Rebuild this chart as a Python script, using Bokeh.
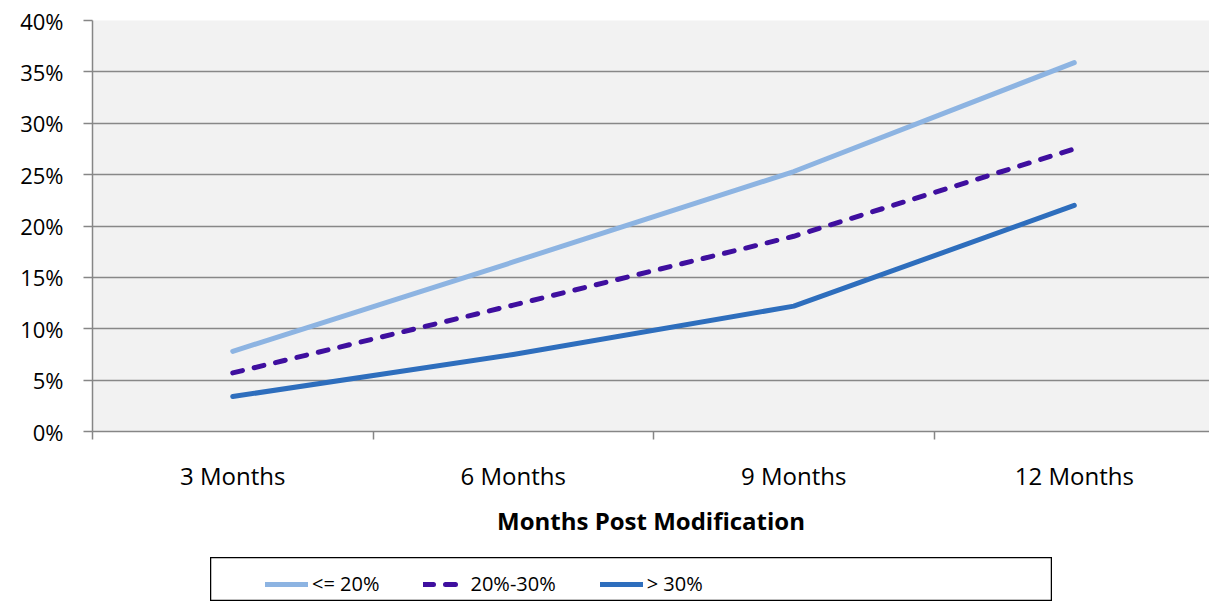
from bokeh.plotting import figure
from bokeh.layouts import column, row
from bokeh.models import (Range1d, FixedTicker, NumeralTickFormatter, Legend, LegendItem,
                          ColumnDataSource, Spacer)
from bokeh.embed import file_html
from bokeh.resources import INLINE

months = ["3 Months", "6 Months", "9 Months", "12 Months"]
y_ticks = [0, 0.05, 0.10, 0.15, 0.20, 0.25, 0.30, 0.35, 0.40]
series_names = ["<= 20%", "20%-30%", "> 30%"]
le20 = [0.078, 0.165, 0.253, 0.359]
s20_30 = [0.057, 0.123, 0.190, 0.275]
gt30 = [0.034, 0.075, 0.122, 0.220]

FONT = "Open Sans"
x_pos = [i + 0.5 for i in range(len(months))]

p = figure(width=1209, height=557, output_backend="svg", toolbar_location=None,
           x_range=Range1d(0, 3.982), y_range=Range1d(0, 0.40),
           min_border_left=92, min_border_right=0, min_border_top=20, min_border_bottom=126)
p.background_fill_color = "#F2F2F2"
p.border_fill_color = "white"
p.outline_line_color = None

styles = [
    (le20, "#8DB4E2", None),
    (s20_30, "#3F0F9F", "10 12"),
    (gt30, "#2E6EBD", None),
]


def line_kw(color, dash):
    kw = dict(line_color=color, line_width=5, line_cap="round", line_join="round")
    if dash:
        kw["line_dash"] = dash
    return kw


sources = []
for vals, color, dash in styles:
    src = ColumnDataSource(dict(x=x_pos, y=vals))
    sources.append(src)
    p.line("x", "y", source=src, **line_kw(color, dash))

# x axis
xa = p.xaxis[0]
xa.ticker = FixedTicker(ticks=x_pos, minor_ticks=list(range(len(months) + 1)))
xa.major_label_overrides = {x: m for x, m in zip(x_pos, months)}
xa.major_tick_out = 0
xa.major_tick_in = 0
xa.minor_tick_out = 8
xa.minor_tick_in = 0
xa.minor_tick_line_color = "#868686"
xa.minor_tick_line_width = 1.5
xa.axis_line_color = "#868686"
xa.axis_line_width = 1.5
xa.major_label_text_font = FONT
xa.major_label_text_font_size = "24px"
xa.major_label_text_color = "black"
xa.major_label_standoff = 19
xa.axis_label = "Months Post Modification"
xa.axis_label_text_font = FONT
xa.axis_label_text_font_style = "bold"
xa.axis_label_text_font_size = "24px"
xa.axis_label_text_color = "black"
xa.axis_label_standoff = 9

# y axis
ya = p.yaxis[0]
ya.ticker = FixedTicker(ticks=y_ticks, minor_ticks=[])
ya.formatter = NumeralTickFormatter(format="0%")
ya.major_tick_out = 9
ya.major_tick_in = 0
ya.major_tick_line_color = "#868686"
ya.major_tick_line_width = 1.5
ya.axis_line_color = "#868686"
ya.axis_line_width = 1.5
ya.major_label_text_font = FONT
ya.major_label_text_font_size = "22px"
ya.major_label_text_color = "black"
ya.major_label_standoff = 20

p.xgrid.grid_line_color = None
p.ygrid.ticker = FixedTicker(ticks=y_ticks)
p.ygrid.grid_line_color = "#888888"
p.ygrid.grid_line_width = 1.5

# legend box: a small figure whose outline is the box; its lines share the
# series data but lie outside its visible range, so only the legend shows
lg = figure(width=842, height=44, output_backend="svg", toolbar_location=None,
            x_range=Range1d(100, 101), y_range=Range1d(100, 101),
            min_border=0, x_axis_type=None, y_axis_type=None)
lg.grid.visible = False
lg.background_fill_color = "white"
lg.outline_line_color = "black"
lg.outline_line_width = 1.5
items = []
for name, src, (vals, color, dash) in zip(series_names, sources, styles):
    r = lg.line("x", "y", source=src, **line_kw(color, dash))
    items.append(LegendItem(label=name, renderers=[r]))
legend = Legend(items=items, orientation="horizontal", location=(55, 4),
                padding=0, margin=0, spacing=44, glyph_width=43, glyph_height=20,
                label_standoff=4, label_text_font=FONT, label_text_font_size="20px",
                label_text_color="black", label_width=60, label_height=20,
                border_line_color=None, background_fill_alpha=0)
lg.add_layout(legend, "center")

layout = column(p, row(Spacer(width=210), lg))
open("out.html", "w").write(file_html(layout, INLINE))
